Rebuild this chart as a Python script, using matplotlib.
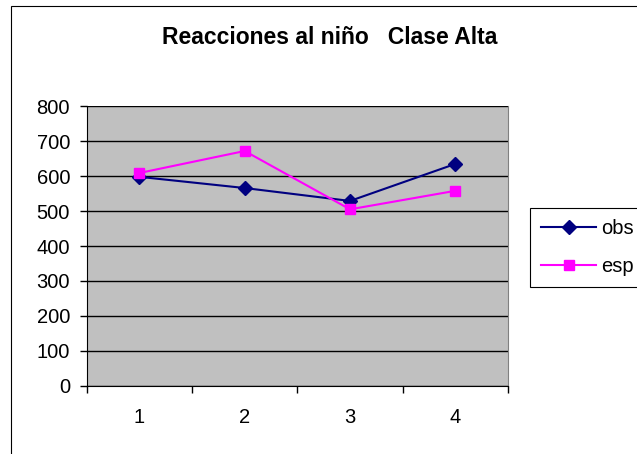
import matplotlib
matplotlib.use("Agg")
import matplotlib.pyplot as plt
from matplotlib.patches import Rectangle

plt.rcParams["font.family"] = ["Liberation Sans", "DejaVu Sans"]

# data
categories = [1, 2, 3, 4]
obs = [598, 566, 529, 635]
esp = [609, 672, 505, 558]
y_ticks = [0, 100, 200, 300, 400, 500, 600, 700, 800]
title = "Reacciones al niño   Clase Alta"

W, H = 637, 454
fig = plt.figure(figsize=(W / 100, H / 100), dpi=100)

# outer chart border (runs off the right and bottom edge like the reference)
fig.patches.append(Rectangle((11 / W, -0.1), 1.2, (H - 6) / H + 0.1,
                             transform=fig.transFigure, fill=False,
                             edgecolor="black", linewidth=0.8))

ax = fig.add_axes([86.7 / W, 68.3 / H, (508 - 86.7) / W, (385.7 - 106.3) / H])
ax.set_facecolor("#C0C0C0")

ax.plot(categories, obs, color="#000080", linewidth=1.5, marker="D",
        markersize=7, label="obs", zorder=3)
ax.plot(categories, esp, color="#FF00FF", linewidth=1.5, marker="s",
        markersize=7, label="esp", zorder=4)

ax.set_xlim(0.5, 4.5)
ax.set_ylim(0, 800)
ax.set_yticks(y_ticks)
ax.set_xticks(categories)
ax.set_xticks([c - 0.5 for c in categories] + [categories[-1] + 0.5], minor=True)
ax.tick_params(axis="x", which="major", length=0, pad=16, labelsize=14.5)
ax.tick_params(axis="x", which="minor", length=5, width=1, direction="out")
ax.tick_params(axis="y", length=5, width=1, direction="out", pad=7, labelsize=14.5)
ax.yaxis.grid(True, color="black", linewidth=1)
ax.set_axisbelow(True)

ax.spines["left"].set_color("black")
ax.spines["bottom"].set_color("black")
ax.spines["top"].set_visible(False)
ax.spines["right"].set_color("#808080")

fig.text(330 / W, (H - 37) / H, title, ha="center", va="center",
         fontsize=16.5, fontweight="bold")

leg = fig.legend(loc="upper left", bbox_to_anchor=(530 / W, (H - 208) / H),
                 fontsize=14.5, fancybox=False, edgecolor="black",
                 framealpha=1, handlelength=2.75, handletextpad=0.25,
                 borderpad=0.55, labelspacing=0.95, borderaxespad=0)
leg.get_frame().set_linewidth(0.8)

fig.savefig("out.png", dpi=100)
